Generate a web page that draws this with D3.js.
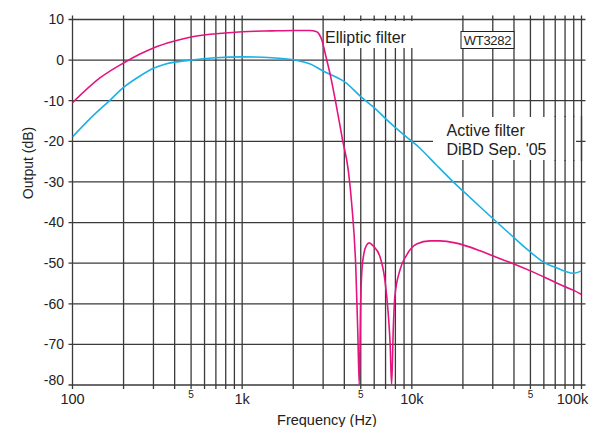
<!DOCTYPE html>
<html lang="en">
<head>
    <meta charset="UTF-8">
    <title>Elliptic vs Active filter</title>
    <style>
        body, html {
            margin: 0;
            padding: 0;
            background: #fff;
            font-family: "Liberation Sans", Arial, sans-serif;
        }
        #chart svg { display: block; }
    </style>
    <script src="https://d3js.org/d3.v7.min.js"></script>
</head>
<body>
    <div id="chart"></div>
    <script>
        // frequency (Hz) / output (dB)
        const ellipticFreq = [100, 145, 200, 250, 300, 400, 500, 700, 1000, 1500, 2000, 2500, 2750, 2850, 2950, 3100, 3340, 3600, 3900,
            4220, 4420, 4680, 4810, 4900, 4990, 5080, 5220, 5400, 5610, 5900, 6490, 6940, 7260, 7450, 7600, 7770, 7940, 8510,
            9320, 10670, 12790, 14650, 18000, 20000, 25000, 30000, 40000, 50000, 60000, 70000, 80000, 90000, 100000];
        const ellipticDb = [-10.5, -4.4, -0.7, 1.5, 3.0, 4.7, 5.7, 6.5, 7.0, 7.2, 7.3, 7.3, 7.0, 6.3, 4.9, 1.3, -4.5, -11.5, -19.5,
            -27.1, -35.3, -51.7, -68, -80, -60, -51.7, -47.6, -45.6, -45.0, -45.7, -48.4, -54.2, -62.4, -70, -80, -66.5, -58.3, -51.7,
            -48.0, -45.3, -44.5, -44.5, -45.0, -45.5, -46.9, -48.2, -50.2, -51.9, -53.4, -54.7, -55.8, -56.7, -57.7];

        const activeFreq = [100, 127, 166, 200, 250, 300, 350, 400, 500, 700, 1000, 1500, 2000, 2500, 3000, 4000, 5000, 6000, 7000, 8000,
            10000, 11170, 14000, 17160, 20000, 30000, 40000, 48500, 60000, 70000, 80000, 90000, 100000];
        const activeDb = [-18.9, -14.4, -9.9, -6.7, -3.9, -2.0, -1.0, -0.5, 0.0, 0.6, 0.8, 0.6, 0.1, -0.9, -2.7, -5.3, -9.0, -11.7, -14.4, -16.6,
            -20.0, -21.7, -25.9, -29.6, -32.2, -39.0, -43.7, -46.8, -49.8, -51.0, -52.0, -52.5, -51.9];

        const yTicks = [10, 0, -10, -20, -30, -40, -50, -60, -70, -80];
        const majorTicks = [100, 1000, 10000, 100000];
        const majorLabels = ["100", "1k", "10k", "100k"];
        const minorLabelTicks = [500, 5000, 50000];

        const margin = { top: 19.5, right: 24.5, bottom: 42, left: 72.5 },
            width = 606 - margin.left - margin.right,
            height = 427 - margin.top - margin.bottom;

        const svg = d3.select("#chart").append("svg")
            .attr("width", 606)
            .attr("height", 427)
            .append("g")
            .attr("transform", `translate(${margin.left},${margin.top})`);

        const x = d3.scaleLog().domain([100, 100000]).range([0, width]);
        const y = d3.scaleLinear().domain([-80, 10]).range([height, 0]);

        // every 1..9 step of each decade
        const gridFreqs = [];
        [100, 1000, 10000].forEach(dec => {
            for (let k = 1; k < 10; k++) gridFreqs.push(dec * k);
        });
        gridFreqs.push(100000);

        const gridColor = "#3a3a3a";
        const over = 4;

        // horizontal grid
        svg.append("g").selectAll("line")
            .data(yTicks)
            .join("line")
            .attr("x1", -over).attr("x2", width + over)
            .attr("y1", d => y(d)).attr("y2", d => y(d))
            .attr("stroke", gridColor)
            .attr("stroke-width", 1.3);

        // vertical grid
        svg.append("g").selectAll("line")
            .data(gridFreqs)
            .join("line")
            .attr("x1", d => x(d)).attr("x2", d => x(d))
            .attr("y1", -over).attr("y2", height + over)
            .attr("stroke", gridColor)
            .attr("stroke-width", 1.3);

        // white boxes behind the labels
        svg.append("rect")
            .attr("x", 325 - margin.left).attr("y", 21 - margin.top)
            .attr("width", 93).attr("height", 27)
            .attr("fill", "#fff");

        svg.append("rect")
            .attr("x", 433 - margin.left).attr("y", 117 - margin.top)
            .attr("width", 143).attr("height", 43)
            .attr("fill", "#fff");

        // right-hand lines run through the active filter box
        svg.append("g").selectAll("line")
            .data(gridFreqs.filter(d => d >= 70000))
            .join("line")
            .attr("x1", d => x(d)).attr("x2", d => x(d))
            .attr("y1", 116 - margin.top).attr("y2", 161 - margin.top)
            .attr("stroke", gridColor)
            .attr("stroke-width", 1.3);

        // y axis labels
        svg.append("g").selectAll("text")
            .data(yTicks)
            .join("text")
            .attr("x", -8.5)
            .attr("y", d => y(d) + (d === -80 ? -5 : 0))
            .attr("dy", "0.35em")
            .attr("text-anchor", "end")
            .style("font-size", "14px")
            .style("fill", "#222")
            .text(d => d);

        // x axis labels
        svg.append("g").selectAll("text")
            .data(majorTicks)
            .join("text")
            .attr("x", (d, i) => x(d) + (i === 3 ? -9 : 0))
            .attr("y", height + 18.5)
            .attr("text-anchor", "middle")
            .style("font-size", "14.5px")
            .style("fill", "#222")
            .text((d, i) => majorLabels[i]);

        svg.append("g").selectAll("text")
            .data(minorLabelTicks)
            .join("text")
            .attr("x", d => x(d))
            .attr("y", height + 12.5)
            .attr("text-anchor", "middle")
            .style("font-size", "10px")
            .style("fill", "#222")
            .text("5");

        svg.append("text")
            .attr("x", width / 2)
            .attr("y", height + 39.5)
            .attr("text-anchor", "middle")
            .style("font-size", "14.5px")
            .style("fill", "#222")
            .text("Frequency (Hz)");

        svg.append("text")
            .attr("transform", `translate(${33 - margin.left},${163 - margin.top}) rotate(-90)`)
            .attr("text-anchor", "middle")
            .style("font-size", "14px")
            .style("fill", "#222")
            .text("Output (dB)");

        // curves
        svg.append("clipPath").attr("id", "plot")
            .append("rect").attr("width", width).attr("height", height);

        const smoothLine = d3.line()
            .x(d => x(d[0]))
            .y(d => y(d[1]))
            .curve(d3.curveCatmullRom.alpha(0.5));

        const notchLine = d3.line()
            .x(d => x(d[0]))
            .y(d => y(d[1]))
            .curve(d3.curveMonotoneX);

        svg.append("path")
            .datum(activeFreq.map((f, i) => [f, activeDb[i]]))
            .attr("clip-path", "url(#plot)")
            .attr("d", smoothLine)
            .attr("fill", "none")
            .attr("stroke", "#1ab1e6")
            .attr("stroke-width", 1.6);

        svg.append("path")
            .datum(ellipticFreq.map((f, i) => [f, ellipticDb[i]]))
            .attr("clip-path", "url(#plot)")
            .attr("d", notchLine)
            .attr("fill", "none")
            .attr("stroke", "#e5137f")
            .attr("stroke-width", 1.6);

        // labels
        svg.append("text")
            .attr("x", 325 - margin.left)
            .attr("y", 42.5 - margin.top)
            .style("font-size", "16px")
            .style("fill", "#222")
            .text("Elliptic filter");

        svg.append("text")
            .attr("x", 446.5 - margin.left)
            .attr("y", 136 - margin.top)
            .style("font-size", "16px")
            .style("fill", "#222")
            .text("Active filter");

        svg.append("text")
            .attr("x", 446.5 - margin.left)
            .attr("y", 154.5 - margin.top)
            .style("font-size", "16px")
            .style("fill", "#222")
            .text("DiBD Sep. '05");

        svg.append("rect")
            .attr("x", 461 - margin.left).attr("y", 31.5 - margin.top)
            .attr("width", 53).attr("height", 17)
            .attr("fill", "#fff")
            .attr("stroke", "#222")
            .attr("stroke-width", 1);

        svg.append("text")
            .attr("x", 487.5 - margin.left)
            .attr("y", 44.5 - margin.top)
            .attr("text-anchor", "middle")
            .style("font-size", "13px")
            .style("letter-spacing", "-0.3px")
            .style("fill", "#222")
            .text("WT3282");
    </script>
</body>
</html>
